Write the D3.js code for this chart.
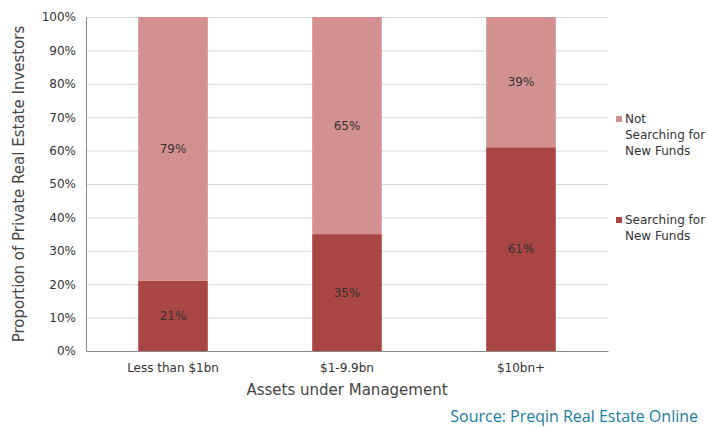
<!DOCTYPE html>
<html>
<head>
<meta charset="utf-8">
<script src="https://cdn.jsdelivr.net/npm/d3@7"></script>
<style>
  body { margin: 0; background: #fff; }
  text { font-family: "DejaVu Sans", sans-serif; }
</style>
</head>
<body>
<svg id="chart"></svg>
<script>
// data
const categories = ['Less than $1bn', '$1-9.9bn', '$10bn+'];
const searching = [21, 35, 61];
const notSearching = [79, 65, 39];
const yTicks = [0, 10, 20, 30, 40, 50, 60, 70, 80, 90, 100];

const width = 708, height = 427;
const marginLeft = 86, marginRight = 100, marginTop = 17, marginBottom = 76;

const svg = d3.select('#chart')
  .attr('width', width)
  .attr('height', height);

const x = d3.scaleBand()
  .domain(categories)
  .range([marginLeft, width - marginRight])
  .paddingInner(0.6).paddingOuter(0.3);

const y = d3.scaleLinear()
  .domain([0, 100])
  .range([height - marginBottom, marginTop]);

const color = d3.scaleOrdinal()
  .domain(['searching', 'not'])
  .range(['#a94543', '#d29190']);

// gridlines
svg.append('g')
  .selectAll('line')
  .data(yTicks.filter(d => d > 0))
  .join('line')
  .attr('x1', marginLeft).attr('x2', width - marginRight)
  .attr('y1', d => y(d) + 0.5).attr('y2', d => y(d) + 0.5)
  .attr('stroke', '#d9d9d9').attr('stroke-width', 1);

// stacked bars
const rows = categories.map((c, i) => ({cat: c, searching: searching[i], not: notSearching[i]}));
const stack = d3.stack().keys(['searching', 'not'])(rows);

const layer = svg.append('g').selectAll('g')
  .data(stack)
  .join('g')
  .attr('fill', d => color(d.key));

layer.selectAll('rect')
  .data(d => d)
  .join('rect')
  .attr('x', d => x(d.data.cat))
  .attr('y', d => y(d[1]))
  .attr('width', x.bandwidth())
  .attr('height', d => y(d[0]) - y(d[1]));

layer.selectAll('text')
  .data(d => d)
  .join('text')
  .attr('x', d => x(d.data.cat) + x.bandwidth() / 2)
  .attr('y', d => y((d[0] + d[1]) / 2))
  .attr('dy', '0.35em')
  .attr('text-anchor', 'middle')
  .attr('fill', '#333')
  .style('font-size', '12px')
  .text(d => (d[1] - d[0]) + '%');

// axes
const yAxis = svg.append('g')
  .attr('transform', `translate(${marginLeft},0)`)
  .call(d3.axisLeft(y).tickValues(yTicks).tickSize(0).tickPadding(10).tickFormat(d => d + '%'));
yAxis.select('.domain').attr('stroke', '#898989');
yAxis.selectAll('text').style('font-size', '12px').attr('fill', '#333');

const xAxis = svg.append('g')
  .attr('transform', `translate(0,${height - marginBottom})`)
  .call(d3.axisBottom(x).tickSize(0).tickPadding(12));
xAxis.select('.domain').attr('stroke', '#898989');
xAxis.selectAll('text').style('font-size', '12px').attr('fill', '#333');

// axis titles
svg.append('text')
  .attr('transform', `translate(24,${(marginTop + height - marginBottom) / 2}) rotate(-90)`)
  .attr('text-anchor', 'middle')
  .attr('fill', '#444')
  .style('font-size', '15px')
  .text('Proportion of Private Real Estate Investors');

svg.append('text')
  .attr('x', (marginLeft + width - marginRight) / 2)
  .attr('y', 395)
  .attr('text-anchor', 'middle')
  .attr('fill', '#444')
  .style('font-size', '15px')
  .text('Assets under Management');

// legend
const legend = [
  {key: 'not', lines: ['Not', 'Searching for', 'New Funds'], y: 119},
  {key: 'searching', lines: ['Searching for', 'New Funds'], y: 220}
];
const lg = svg.append('g').selectAll('g').data(legend).join('g');
lg.append('rect')
  .attr('x', 616).attr('y', d => d.y - 3)
  .attr('width', 6).attr('height', 6)
  .attr('fill', d => color(d.key));
lg.append('text')
  .attr('x', 625).attr('y', d => d.y)
  .attr('fill', '#333')
  .style('font-size', '12px')
  .selectAll('tspan')
  .data(d => d.lines)
  .join('tspan')
  .attr('x', 625)
  .attr('dy', (d, i) => i === 0 ? '0.35em' : '16px')
  .text(d => d);

// source
svg.append('text')
  .attr('x', 698).attr('y', 422)
  .attr('text-anchor', 'end')
  .attr('fill', '#1a7ea2')
  .style('font-family', '"Open Sans", sans-serif')
  .style('font-size', '16px')
  .text('Source: Preqin Real Estate Online');
</script>
</body>
</html>
